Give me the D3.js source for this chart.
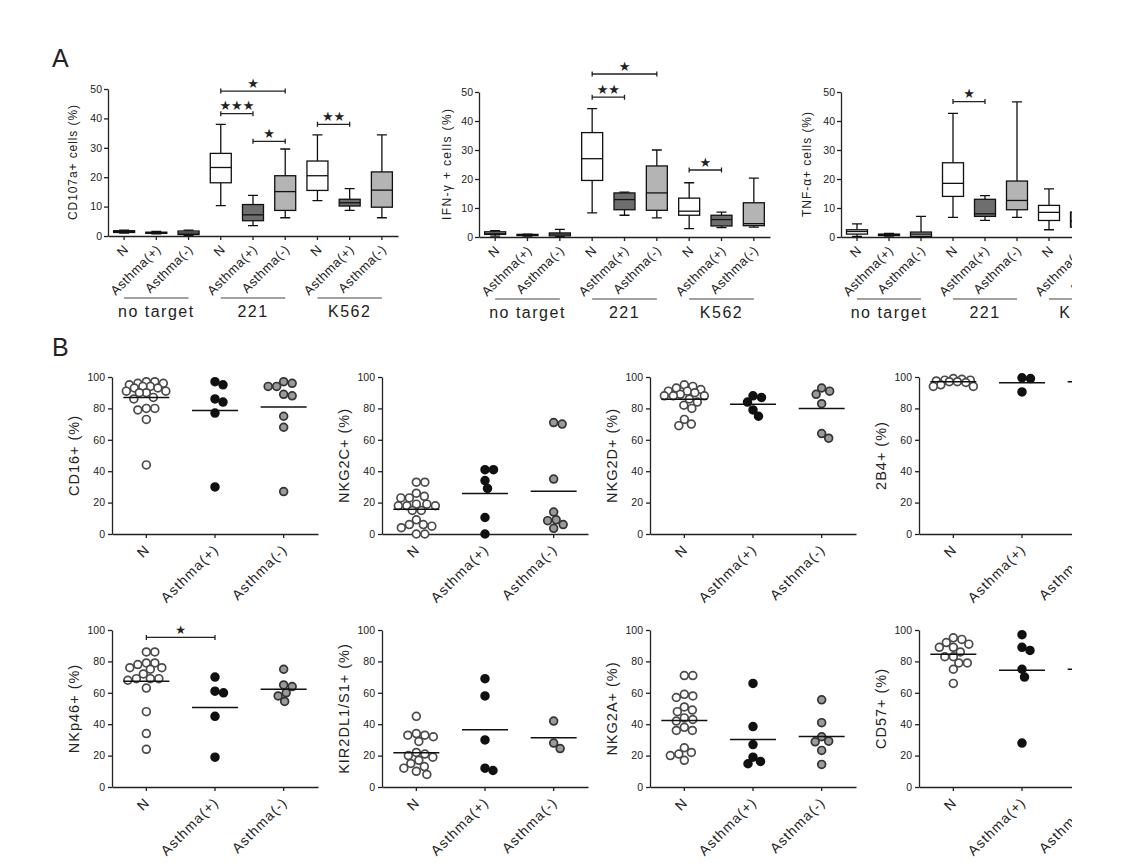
<!DOCTYPE html>
<html><head><meta charset="utf-8">
<script src="https://cdn.jsdelivr.net/npm/d3@7"></script>
<style>
body{margin:0;background:#fff}
svg{display:block}
text{font-family:"Liberation Sans",Arial,sans-serif;fill:#222}
</style>
</head><body>
<svg id="c" width="1130" height="867"></svg>
<script>
// ---------------- DATA ----------------
// Panel A
const categoriesA = ["N","Asthma(+)","Asthma(-)","N","Asthma(+)","Asthma(-)","N","Asthma(+)","Asthma(-)"];
const targetGroups = ["no target","221","K562"];
const ticksA = [0,10,20,30,40,50];
const labelsA = ["CD107a+ cells (%)","IFN-γ + cells (%)","TNF-α+ cells (%)"];
// [min, q1, median, q3, max]
const cd107aBoxes = [
  [1.0,1.2,1.5,1.8,2.0],
  [0.7,0.9,1.1,1.3,1.6],
  [0.2,0.5,1.0,1.7,2.0],
  [10.3,18.1,23.3,28.1,38.0],
  [3.5,5.2,7.2,10.7,13.8],
  [6.2,8.7,15.1,20.5,29.6],
  [12.0,15.5,20.5,25.5,34.4],
  [8.7,10.2,11.3,12.5,16.1],
  [6.2,9.8,15.6,21.8,34.4]
];
const ifngBoxes = [
  [0.3,0.9,1.3,1.8,2.2],
  [0.3,0.5,0.7,0.9,1.0],
  [0.1,0.4,1.0,1.4,2.6],
  [8.3,19.5,27.0,36.0,44.3],
  [7.5,9.4,12.9,15.2,15.5],
  [6.6,9.2,15.2,24.5,30.0],
  [2.9,7.5,8.9,13.4,18.7],
  [3.2,3.8,6.0,7.5,8.6],
  [3.4,3.9,4.6,11.8,20.3]
];
const tnfaBoxes = [
  [0.2,1.0,1.9,2.5,4.5],
  [0.3,0.5,0.8,1.0,1.2],
  [0.0,0.2,1.0,1.7,7.1],
  [6.8,14.0,18.5,25.6,42.6],
  [5.7,7.1,8.0,13.0,14.3],
  [6.8,9.4,12.6,19.3,46.6],
  [2.5,5.7,8.5,10.9,16.6],
  [2.5,3.4,5.5,8.6,10.0],
  null
];
// [fromIndex, toIndex, yValue, stars]
const cd107aSig = [[3,5,49.3,"★"],[3,4,41.6,"★★★"],[4,5,32.2,"★"],[6,7,38.0,"★★"]];
const ifngSig = [[3,5,56.2,"★"],[3,4,48.2,"★★"],[6,7,23.1,"★"]];
const tnfaSig = [[3,4,46.7,"★"]];

// Panel B
const groupsB = ["N","Asthma(+)","Asthma(-)"];
const ticksB = [0,20,40,60,80,100];
const markersB = ["CD16+ (%)","NKG2C+ (%)","NKG2D+ (%)","2B4+ (%)","NKp46+ (%)","KIR2DL1/S1+ (%)","NKG2A+ (%)","CD57+ (%)"];
const cd16Values = [
  [97,96,96,95,97,94,93,93,94,91,90,90,91,86,87,79,80,80,73,44],
  [97,95,86,84,77,30],
  [97,96,94,94,89,88,75,68,27]
];
const cd16Lines = [86.9,78.6,80.9];
const nkg2cValues = [
  [33,33,26,23,23,24,19,18,18,18,19,15,15,9,6,6,5,4,0,0],
  [41,41,34,29,10.5,0],
  [71,70,35,14,8.5,9,6,3.6]
];
const nkg2cLines = [15.7,25.8,27.3];
const nkg2dValues = [
  [95,94,93,92,91,91,90,89,88,88,88,86,84,82,80,73,70,69],
  [88,87,84,79,75],
  [93,91,89,83,64,61]
];
const nkg2dLines = [85.9,82.7,80.0];
const b2b4Values = [
  [99,98.5,98,98,97.5,97,97,96.5,95,94,94],
  [99.5,99,90.5],
  []
];
const b2b4Lines = [97.0,96.4,97.0];
const nkp46Values = [
  [86,86,79,79,78,76,76,75,72,69,69,69,68,63,48,34,24],
  [70,61,60,45,19],
  [75,65,64,60,58,54.5]
];
const nkp46Lines = [67.4,50.6,62.3];
const nkp46Sig = [[0,1,95.3,"★"]];
const kirValues = [
  [45,34,33,32,33,29,22,21,20,19,17,15,13,12,10,8],
  [69,58,30,12,10.5],
  [42,28,24.5]
];
const kirLines = [21.8,36.4,31.4];
const nkg2aValues = [
  [71,71,59,58,57,51,49,48,44,43,42,38,36,36,25,22,21,20,17],
  [66,38.5,27,19,16.3,14.8],
  [55.5,41,32,29.2,28.8,23.3,14.4]
];
const nkg2aLines = [42.3,30.2,32.1];
const cd57Values = [
  [95,94,92,91,89,89,86,83,83,79,79,75,66],
  [97,89,87,75,70,28],
  []
];
const cd57Lines = [84.5,74.3,75.0];

// ---------------- LAYOUT / STYLE ----------------
const svg = d3.select("#c");
svg.append("rect").attr("width",1130).attr("height",867).attr("fill","#fff");
svg.append("defs").append("clipPath").attr("id","clip")
  .append("rect").attr("x",0).attr("y",0).attr("width",1072).attr("height",867);
const root = svg.append("g").attr("clip-path","url(#clip)");

const boxFill = ["#ffffff","#6e6e6e","#b4b4b4"];
const AXIS = "#222";

function styleAxis(sel, fs){
  sel.selectAll("path,line").attr("stroke",AXIS).attr("stroke-width",1.3);
  sel.selectAll("text").style("font-size",fs+"px").attr("fill","#333")
     .style("font-family","'Liberation Sans',Arial,sans-serif");
}

function sigBracket(g, x, y, sig, starSize){
  sig.forEach(([a,b,v,s])=>{
    const xa = x(a)+x.bandwidth()/2, xb = x(b)+x.bandwidth()/2, yy = y(v);
    g.append("path").attr("d",`M${xa},${yy-2.5}V${yy+2.5}M${xa},${yy}H${xb}M${xb},${yy-2.5}V${yy+2.5}`)
      .attr("stroke","#222").attr("stroke-width",1.3).attr("fill","none");
    g.append("text").attr("x",(xa+xb)/2).attr("y",yy-8).attr("dy","0.35em")
      .attr("text-anchor","middle").style("font-family","'DejaVu Sans',sans-serif")
      .style("font-size",starSize+"px").attr("fill","#333").text(s);
  });
}

// ---------- Panel A ----------
root.append("text").attr("x",52).attr("y",67).style("font-size","25px").text("A");

const layoutA = [
  {x0:108,x1:398,y0:236,y1:89,labX:73,labLen:115},
  {x0:479,x1:770,y0:237,y1:92,labX:447,labLen:111},
  {x0:841,x1:1129,y0:237,y1:92,labX:807,labLen:105}
];
const boxesA = [cd107aBoxes, ifngBoxes, tnfaBoxes];
const sigA = [cd107aSig, ifngSig, tnfaSig];

layoutA.forEach((L,pi)=>{
  const g = root.append("g");
  const x = d3.scaleBand().domain(d3.range(categoriesA.length)).range([L.x0,L.x1]);
  const y = d3.scaleLinear().domain([0,50]).range([L.y0,L.y1]);
  const ya = g.append("g").attr("transform",`translate(${L.x0},0)`)
    .call(d3.axisLeft(y).tickValues(ticksA).tickSize(4).tickSizeOuter(0).tickPadding(2));
  styleAxis(ya, 10.5);
  const xa = g.append("g").attr("transform",`translate(0,${L.y0})`)
    .call(d3.axisBottom(x).tickSize(4).tickSizeOuter(0).tickFormat(""));
  styleAxis(xa, 10);
  categoriesA.forEach((c,i)=>{
    const cx = x(i)+x.bandwidth()/2;
    g.append("text").attr("transform",`translate(${cx+2},${L.y0+11}) rotate(-45)`)
      .attr("text-anchor","end").attr("dy","0.35em")
      .style("font-size","13px").style("letter-spacing","0.5px").text(c);
  });
  targetGroups.forEach((t,gi)=>{
    const xa0 = x(gi*3)+x.bandwidth()/2, xa1 = x(gi*3+2)+x.bandwidth()/2;
    g.append("line").attr("x1",xa0).attr("x2",xa1).attr("y1",L.y0+62).attr("y2",L.y0+62)
      .attr("stroke","#444").attr("stroke-width",1.2);
    g.append("text").attr("x",(xa0+xa1)/2).attr("y",L.y0+81).attr("text-anchor","middle")
      .style("font-size","16px").style("letter-spacing","1.5px").text(t);
  });
  g.append("text").attr("transform",`translate(${L.labX},${(L.y0+L.y1)/2}) rotate(-90)`)
    .attr("text-anchor","middle").attr("dy","0.35em").style("font-size","12px")
    .attr("textLength",L.labLen).attr("lengthAdjust","spacing").text(labelsA[pi]);
  const bw = 21, cw = 10;
  boxesA[pi].forEach((b,i)=>{
    if(!b) return;
    const cx = x(i)+x.bandwidth()/2;
    const [mn,q1,md,q3,mx] = b.map(y);
    const bg = g.append("g").attr("stroke","#111").attr("stroke-width",1.3);
    bg.append("path").attr("d",`M${cx},${mn}V${q1}M${cx},${q3}V${mx}M${cx-cw/2},${mn}H${cx+cw/2}M${cx-cw/2},${mx}H${cx+cw/2}`).attr("fill","none");
    bg.append("rect").attr("x",cx-bw/2).attr("y",q3).attr("width",bw).attr("height",Math.max(q1-q3,0.5))
      .attr("fill",boxFill[i%3]);
    bg.append("line").attr("x1",cx-bw/2).attr("x2",cx+bw/2).attr("y1",md).attr("y2",md);
  });
  sigBracket(g, x, y, sigA[pi], 13);
});

// ---------- Panel B ----------
root.append("text").attr("x",52).attr("y",356).style("font-size","25px").text("B");

const colsB = [112,382,650,919];
const rowsB = [[534,377],[787,630]];
const widthB = 206;
const valuesB = [cd16Values,nkg2cValues,nkg2dValues,b2b4Values,nkp46Values,kirValues,nkg2aValues,cd57Values];
const linesB = [cd16Lines,nkg2cLines,nkg2dLines,b2b4Lines,nkp46Lines,kirLines,nkg2aLines,cd57Lines];
const sigB = [[],[],[],[],nkp46Sig,[],[],[]];
const dotStyle = [
  {fill:"#ffffff",stroke:"#4a4a4a"},
  {fill:"#111111",stroke:"#111111"},
  {fill:"#9a9a9a",stroke:"#333333"}
];

function swarm(vals, y, diam, maxOff){
  const pts = vals.map(v=>({v, py:y(v)})).sort((a,b)=>d3.descending(a.v,b.v));
  const offs=[0]; for(let k=1;k<=maxOff*2;k++){offs.push(k*0.5,-k*0.5);}
  const placed=[];
  for(const p of pts){
    let found=false, bestO=0, bestD=-1;
    for(const o of offs){
      let minD=Infinity;
      for(const q of placed){ const d=Math.hypot(q.dx-o,q.py-p.py); if(d<minD) minD=d; }
      if(minD>=diam){p.dx=o;found=true;break;}
      if(minD>bestD){bestD=minD;bestO=o;}
    }
    if(!found) p.dx=bestO;
    placed.push(p);
  }
  return placed;
}

markersB.forEach((m,k)=>{
  const x0 = colsB[k%4], [y0,y1] = rowsB[Math.floor(k/4)];
  const g = root.append("g");
  const x = d3.scaleBand().domain(d3.range(groupsB.length)).range([x0,x0+widthB]);
  const y = d3.scaleLinear().domain([0,100]).range([y0,y1]);
  const ya = g.append("g").attr("transform",`translate(${x0},0)`)
    .call(d3.axisLeft(y).tickValues(ticksB).tickSize(4).tickSizeOuter(0).tickPadding(3));
  styleAxis(ya, 10.5);
  const xa = g.append("g").attr("transform",`translate(0,${y0})`)
    .call(d3.axisBottom(x).tickSize(4).tickSizeOuter(0).tickFormat(""));
  styleAxis(xa, 10);
  groupsB.forEach((c,i)=>{
    const cx = x(i)+x.bandwidth()/2;
    g.append("text").attr("transform",`translate(${cx+1},${y0+13}) rotate(-45)`)
      .attr("text-anchor","end").attr("dy","0.35em")
      .style("font-size","14px").style("letter-spacing","1.1px").text(c);
  });
  g.append("text").attr("transform",`translate(${x0-38},${(y0+y1)/2}) rotate(-90)`)
    .attr("text-anchor","middle").attr("dy","0.35em")
    .style("font-size","14.5px").style("letter-spacing","1px").text(m);
  valuesB[k].forEach((vals,i)=>{
    const cx = x(i)+x.bandwidth()/2;
    const pts = swarm(vals, y, 8.2, 20);
    g.selectAll(null).data(pts).join("circle")
      .attr("cx",d=>cx+d.dx).attr("cy",d=>d.py).attr("r",3.9)
      .attr("fill",dotStyle[i].fill).attr("stroke",dotStyle[i].stroke).attr("stroke-width",1.7);
  });
  linesB[k].forEach((v,i)=>{
    const cx = x(i)+x.bandwidth()/2;
    g.append("line").attr("x1",cx-23).attr("x2",cx+23).attr("y1",y(v)).attr("y2",y(v))
      .attr("stroke","#111").attr("stroke-width",1.5);
  });
  sigBracket(g, x, y, sigB[k], 12);
});
</script>
</body></html>
